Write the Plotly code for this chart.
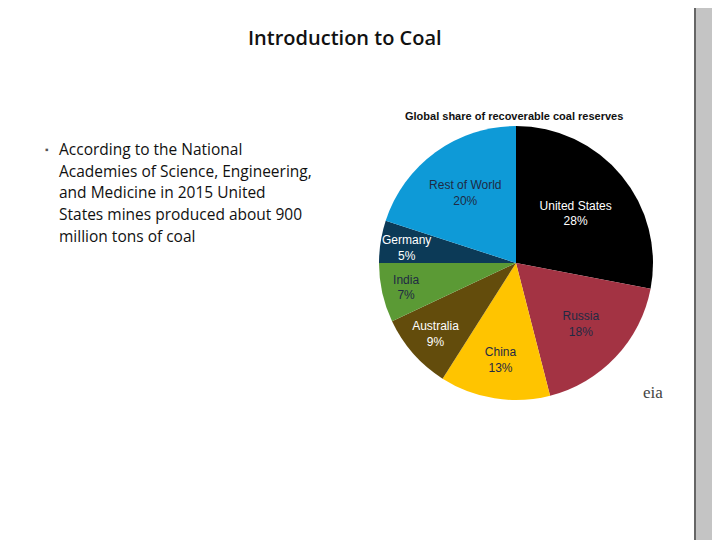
import plotly.graph_objects as go

countries = ["United States", "Russia", "China", "Australia", "India", "Germany", "Rest of World"]
shares = [28, 18, 13, 9, 7, 5, 20]
slice_colors = ["#000000", "#a33343", "#ffc400", "#634c0c", "#5b9a35", "#0c3a57", "#0e9ad7"]
text_colors = ["white", "#1f2a44", "#1f2a44", "white", "#1f2a44", "white", "#1f2a44"]

bullet_lines = [
    "According to the National",
    "Academies of Science, Engineering,",
    "and Medicine in 2015 United",
    "States mines produced about 900",
    "million tons of coal",
]

# the page adds an ~8px body margin; compensate so the picture lands where intended
OFF = 8
W, H = 720, 540

# Germany's slice is too thin for plotly's inside text; label it separately
pie_texts = [f"{c}<br>{s}%" if c != "Germany" else "" for c, s in zip(countries, shares)]

fig = go.Figure(go.Pie(
    labels=countries,
    values=shares,
    sort=False,
    direction="clockwise",
    rotation=0,
    marker=dict(colors=slice_colors),
    text=pie_texts,
    textinfo="text",
    textposition="inside",
    insidetextorientation="horizontal",
    textfont=dict(family="Liberation Sans, Arial", size=12, color=text_colors),
    domain=dict(x=[(379 - OFF) / W, (653 - OFF) / W], y=[1 - (400 - OFF) / H, 1 - (126 - OFF) / H]),
    showlegend=False,
    hoverinfo="label+percent",
))

gi = countries.index("Germany")
fig.add_annotation(text=f"{countries[gi]}<br>{shares[gi]}%", x=406, y=248, xref="x", yref="y",
                   showarrow=False, font=dict(family="Liberation Sans, Arial", size=12, color="white"))

fig.add_annotation(text="Introduction to Coal", x=345, y=37, xref="x", yref="y",
                   showarrow=False, font=dict(family="Open Sans, Calibri", size=20, color="#111", weight=600))
fig.add_annotation(text="Global share of recoverable coal reserves", x=514, y=116, xref="x", yref="y",
                   showarrow=False, font=dict(family="Liberation Sans, Arial", size=11, color="#111", weight="bold"))
fig.add_annotation(text="▪", x=47, y=149, xref="x", yref="y", showarrow=False,
                   font=dict(size=10, color="#555"))
for i, line in enumerate(bullet_lines):
    fig.add_annotation(text=line, x=57, y=149 + i * 21.7, xref="x", yref="y", xanchor="left",
                       showarrow=False, font=dict(family="Open Sans, Calibri", size=15.5, color="#111"))
fig.add_annotation(text="eia", x=653, y=392, xref="x", yref="y", showarrow=False,
                   font=dict(family="Liberation Serif", size=17, color="#444"))

# decorative grey strip on the right edge
fig.add_shape(type="rect", x0=694, x1=740, y0=0, y1=560, xref="x", yref="y",
              fillcolor="#c4c4c4", line=dict(width=0), layer="below")
fig.add_shape(type="line", x0=695, x1=695, y0=0, y1=560, xref="x", yref="y",
              line=dict(color="#666", width=2))

fig.update_layout(
    width=W, height=H,
    margin=dict(l=0, r=0, t=0, b=0),
    paper_bgcolor="white", plot_bgcolor="white",
    uniformtext=dict(minsize=11, mode="show"),
    xaxis=dict(range=[OFF, W + OFF], visible=False, fixedrange=True),
    yaxis=dict(range=[H + OFF, OFF], visible=False, fixedrange=True),
)

fig.write_html("out.html")
